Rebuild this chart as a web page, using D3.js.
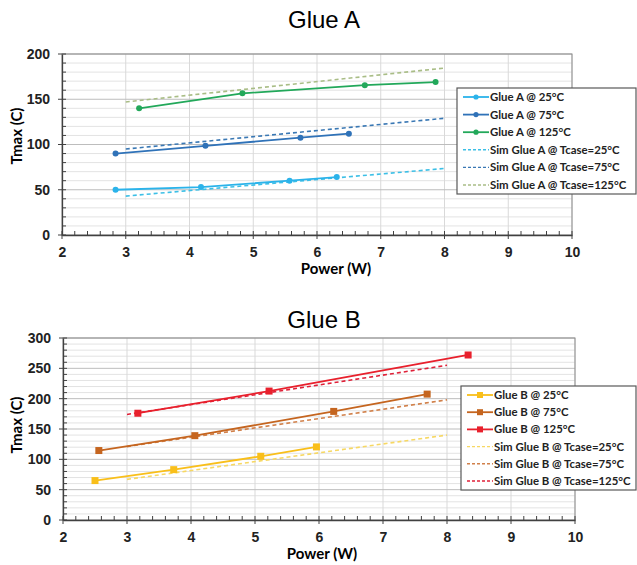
<!DOCTYPE html>
<html>
<head>
<meta charset="utf-8">
<script src="https://cdn.jsdelivr.net/npm/d3@7"></script>
<style>
  body { margin: 0; background: #fff; }
  svg { font-family: Lato, "Open Sans", sans-serif; }
</style>
</head>
<body>
<svg id="chart" width="637" height="565"></svg>
<script>
// x ticks shared by both panels
const xTicks = [2, 3, 4, 5, 6, 7, 8, 9, 10];

// Glue A measured (power W, Tmax C)
const glueA25 = [[2.84, 50], [4.18, 53], [5.57, 60], [6.31, 64]];
const glueA75 = [[2.84, 90], [4.25, 98.5], [5.74, 107.5], [6.5, 112]];
const glueA125 = [[3.21, 140], [4.83, 156.5], [6.75, 165.5], [7.86, 169]];
// Glue A simulated
const simA25 = [[3, 43], [8, 73.5]];
const simA75 = [[3, 95], [8, 129]];
const simA125 = [[3, 147], [8, 184.5]];

// Glue B measured
const glueB25 = [[2.5, 65], [3.73, 83], [5.09, 105], [5.96, 120.5]];
const glueB75 = [[2.56, 114.5], [4.06, 139], [6.23, 179], [7.69, 207.5]];
const glueB125 = [[3.17, 176], [5.22, 212.5], [8.33, 272]];
// Glue B simulated
const simB25 = [[3, 67], [8, 140]];
const simB75 = [[3, 121], [8, 198]];
const simB125 = [[3, 174], [8, 255]];

const svg = d3.select('#chart');

function drawPanel(cfg) {
  const x = d3.scaleLinear().domain([2, 10]).range([cfg.left, cfg.right]);
  const y = d3.scaleLinear().domain([0, cfg.yMax]).range([cfg.bottom, cfg.top]);
  const g = svg.append('g');

  // title
  g.append('text')
    .attr('x', 324).attr('y', cfg.titleY)
    .attr('text-anchor', 'middle')
    .style('font-family', '"Liberation Sans", Arial, sans-serif')
    .style('font-size', '24px')
    .text(cfg.title);

  // minor horizontal grid (every 10)
  g.append('g').selectAll('line')
    .data(d3.range(10, cfg.yMax, 10).filter(v => v % 50 !== 0))
    .join('line')
    .attr('x1', cfg.left).attr('x2', cfg.right)
    .attr('y1', d => y(d)).attr('y2', d => y(d))
    .attr('stroke', '#e3e3e3').attr('stroke-width', 1);

  // vertical grid
  g.append('g').selectAll('line')
    .data(xTicks.slice(1))
    .join('line')
    .attr('x1', d => x(d)).attr('x2', d => x(d))
    .attr('y1', cfg.top).attr('y2', cfg.bottom)
    .attr('stroke', '#d9d9d9').attr('stroke-width', 1);

  // major horizontal grid
  g.append('g').selectAll('line')
    .data(d3.range(50, cfg.yMax + 1, 50))
    .join('line')
    .attr('x1', cfg.left).attr('x2', cfg.right)
    .attr('y1', d => y(d)).attr('y2', d => y(d))
    .attr('stroke', '#bdbdbd').attr('stroke-width', 1);

  // plot border
  g.append('rect')
    .attr('x', cfg.left).attr('y', cfg.top)
    .attr('width', cfg.right - cfg.left).attr('height', cfg.bottom - cfg.top)
    .attr('fill', 'none').attr('stroke', '#8c8c8c').attr('stroke-width', 1);

  // axes
  const xAxis = g.append('g')
    .attr('transform', `translate(0,${cfg.bottom})`)
    .call(d3.axisBottom(x).tickValues(xTicks).tickSize(0).tickPadding(12).tickFormat(d3.format('d')));
  xAxis.select('.domain').attr('stroke', '#404040').attr('stroke-width', 1.3);
  xAxis.selectAll('text').style('font-size', '14px').style('font-weight', 'bold').attr('fill', '#222');

  const yAxis = g.append('g')
    .attr('transform', `translate(${cfg.left},0)`)
    .call(d3.axisLeft(y).tickValues(d3.range(0, cfg.yMax + 1, 50)).tickSize(0).tickPadding(12));
  yAxis.select('.domain').attr('stroke', '#404040').attr('stroke-width', 1.3);
  yAxis.selectAll('text').style('font-size', '14px').style('font-weight', 'bold').attr('fill', '#222');

  // tick marks
  g.append('g').selectAll('line')
    .data(d3.range(2, 10.01, 0.2))
    .join('line')
    .attr('x1', d => x(d)).attr('x2', d => x(d))
    .attr('y1', d => Math.abs(d - Math.round(d)) < 1e-6 ? cfg.bottom + 4 : cfg.bottom)
    .attr('y2', cfg.bottom - 4)
    .attr('stroke', '#404040');
  g.append('g').selectAll('line')
    .data(d3.range(0, cfg.yMax + 1, 10))
    .join('line')
    .attr('y1', d => y(d)).attr('y2', d => y(d))
    .attr('x1', d => d % 50 === 0 ? cfg.left - 4 : cfg.left)
    .attr('x2', cfg.left + 4)
    .attr('stroke', '#404040');

  // axis titles
  g.append('text')
    .attr('x', cfg.xTitleX).attr('y', cfg.bottom + 39)
    .attr('text-anchor', 'middle')
    .style('font-size', '15px').style('font-weight', 'bold')
    .text('Power (W)');
  g.append('text')
    .attr('transform', `translate(22,${cfg.yTitleY}) rotate(-90)`)
    .attr('text-anchor', 'middle')
    .style('font-size', '15px').style('font-weight', 'bold')
    .text('Tmax (C)');

  const line = d3.line().x(d => x(d[0])).y(d => y(d[1]));

  // simulated (dashed)
  cfg.series.filter(s => s.dash).forEach(s => {
    g.append('path').datum(s.data)
      .attr('d', line).attr('fill', 'none')
      .attr('stroke', s.color).attr('stroke-width', 1.6)
      .attr('stroke-dasharray', '4,3');
  });
  // measured
  cfg.series.filter(s => !s.dash).forEach(s => {
    g.append('path').datum(s.data)
      .attr('d', line).attr('fill', 'none')
      .attr('stroke', s.color).attr('stroke-width', 1.8);
    const m = g.append('g').selectAll('.m').data(s.data);
    if (cfg.marker === 'circle') {
      m.join('circle').attr('cx', d => x(d[0])).attr('cy', d => y(d[1]))
        .attr('r', 3).attr('fill', s.color);
    } else {
      m.join('rect').attr('x', d => x(d[0]) - 3.5).attr('y', d => y(d[1]) - 3.5)
        .attr('width', 7).attr('height', 7).attr('fill', s.color);
    }
  });

  // legend
  const lg = g.append('g');
  lg.append('rect')
    .attr('x', cfg.legX).attr('y', cfg.legY)
    .attr('width', 636 - cfg.legX).attr('height', cfg.legH)
    .attr('fill', '#fff').attr('stroke', '#595959').attr('stroke-width', 1.2);
  cfg.series.forEach((s, i) => {
    const yy = cfg.legY + 9 + i * cfg.legStep;
    const x0 = cfg.legX + 6, x1 = cfg.legX + 32;
    lg.append('line')
      .attr('x1', x0).attr('x2', x1).attr('y1', yy).attr('y2', yy)
      .attr('stroke', s.color).attr('stroke-width', s.dash ? 1.4 : 1.8)
      .attr('stroke-dasharray', s.dash ? '3,2' : null);
    if (!s.dash) {
      if (cfg.marker === 'circle') {
        lg.append('circle').attr('cx', (x0 + x1) / 2).attr('cy', yy).attr('r', 2.6).attr('fill', s.color);
      } else {
        lg.append('rect').attr('x', (x0 + x1) / 2 - 3).attr('y', yy - 3)
          .attr('width', 6).attr('height', 6).attr('fill', s.color);
      }
    }
    lg.append('text')
      .attr('x', x1 + 1).attr('y', yy).attr('dy', '0.35em')
      .style('font-size', '11.4px').style('font-weight', 'bold').attr('fill', '#222')
      .text(s.name);
  });
}

drawPanel({
  title: 'Glue A', titleY: 28,
  left: 62, right: 572, top: 54, bottom: 235, yMax: 200,
  xTitleX: 336, yTitleY: 136,
  marker: 'circle',
  legX: 457, legY: 88, legH: 106, legStep: 17.6,
  series: [
    { name: 'Glue A @ 25°C', data: glueA25, color: '#2bb3ea' },
    { name: 'Glue A @ 75°C', data: glueA75, color: '#2f72b8' },
    { name: 'Glue A @ 125°C', data: glueA125, color: '#22a85a' },
    { name: 'Sim Glue A @ Tcase=25°C', data: simA25, color: '#3cbfe6', dash: true },
    { name: 'Sim Glue A @ Tcase=75°C', data: simA75, color: '#3a78b4', dash: true },
    { name: 'Sim Glue A @ Tcase=125°C', data: simA125, color: '#a9bd86', dash: true }
  ]
});

drawPanel({
  title: 'Glue B', titleY: 328,
  left: 63, right: 575, top: 338, bottom: 520, yMax: 300,
  xTitleX: 322, yTitleY: 425,
  marker: 'square',
  legX: 461, legY: 386, legH: 104, legStep: 17.2,
  series: [
    { name: 'Glue B @ 25°C', data: glueB25, color: '#f9bf1a' },
    { name: 'Glue B @ 75°C', data: glueB75, color: '#c5651f' },
    { name: 'Glue B @ 125°C', data: glueB125, color: '#e8202c' },
    { name: 'Sim Glue B @ Tcase=25°C', data: simB25, color: '#f7d863', dash: true },
    { name: 'Sim Glue B @ Tcase=75°C', data: simB75, color: '#d1804a', dash: true },
    { name: 'Sim Glue B @ Tcase=125°C', data: simB125, color: '#df2038', dash: true }
  ]
});
</script>
</body>
</html>
